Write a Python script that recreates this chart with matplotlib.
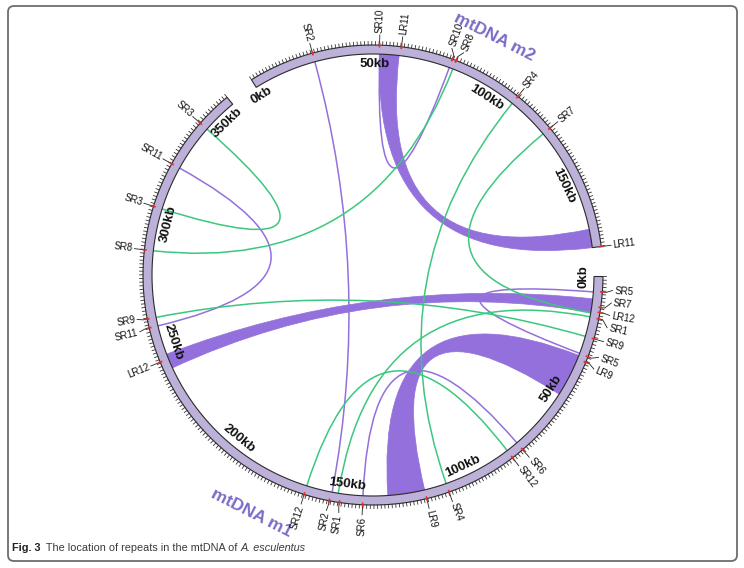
import numpy as np
import matplotlib
matplotlib.use('Agg')
import matplotlib.pyplot as plt
from matplotlib.path import Path
from matplotlib.patches import PathPatch, FancyBboxPatch

plt.rcParams['font.family'] = ['Liberation Sans', 'DejaVu Sans']

# ------------------------------------------------------------------
# data: two mitochondrial chromosomes (kb) and repeat positions
# ------------------------------------------------------------------
chrom_names = ['mtDNA m2', 'mtDNA m1']
chrom_sizes = [178, 357]

# repeat labels on the outside of each chromosome (name, kb)
m2_label_names = ['SR2', 'SR10', 'LR11', 'SR10', 'SR8', 'SR4', 'SR7', 'LR11']
m2_label_kb = [25.8, 52.0, 60.5, 80.8, 82.3, 110.0, 127.5, 178.0]
m1_label_names = ['SR5', 'SR7', 'LR12', 'SR1', 'SR9', 'SR5', 'LR9', 'SR6', 'SR12',
                  'SR4', 'LR9', 'SR6', 'SR1', 'SR2', 'SR12', 'LR12', 'SR11', 'SR9',
                  'SR8', 'SR3', 'SR11', 'SR3']
m1_label_kb = [6.0, 12.0, 14.0, 16.5, 24.4, 31.7, 34.0, 76.0, 81.0,
               109.0, 118.0, 143.0, 152.0, 156.0, 166.0, 244.0, 257.9, 261.4,
               288.3, 305.5, 323.4, 342.6]

# short repeats: single point links
link_names = ['SR2', 'SR5', 'SR6', 'SR10', 'SR11',
              'SR1', 'SR3', 'SR4', 'SR7', 'SR8', 'SR9', 'SR12']
link_kind = ['P', 'P', 'P', 'P', 'P', 'F', 'F', 'F', 'F', 'F', 'F', 'F']
link_chr_a = ['m2', 'm1', 'm1', 'm2', 'm1', 'm1', 'm1', 'm2', 'm2', 'm2', 'm1', 'm1']
link_kb_a = [25.8, 6.2, 76.0, 52.2, 257.9, 16.3, 305.5, 110.0, 127.5, 82.3, 24.4, 81.0]
link_chr_b = ['m1', 'm1', 'm1', 'm2', 'm1', 'm1', 'm1', 'm1', 'm1', 'm1', 'm1', 'm1']
link_kb_b = [155.5, 31.6, 143.0, 80.8, 323.4, 153.0, 342.6, 109.0, 14.7, 288.3, 261.4, 166.0]

# long repeats: ribbons
ribbon_names = ['LR9', 'LR11', 'LR12']
ribbon_chr_a = ['m1', 'm2', 'm1']
ribbon_a = [(118.0, 133.0), (52.0, 60.0), (240.0, 246.0)]
ribbon_chr_b = ['m1', 'm2', 'm1']
ribbon_b = [(32.5, 50.0), (170.5, 178.0), (9.0, 14.5)]

# ------------------------------------------------------------------
# layout
# ------------------------------------------------------------------
W, H = 744, 568
CX, CY = 373.0, 275.0
R_OUT, R_IN = 230.0, 221.0
START_DEG = -31.9
GAP_DEG = 7.5
KIND_COLOR = {'P': '#9370db', 'F': '#3cc77f'}
RIBBON_COLOR = '#9370db'
BAND_COLOR = '#bdb0d9'
NAME_COLOR = '#7b6bc6'

deg_per_kb = (360.0 - 2 * GAP_DEG) / sum(chrom_sizes)
chrom_start = {'m2': START_DEG,
               'm1': START_DEG + chrom_sizes[0] * deg_per_kb + GAP_DEG}
chrom_len = {'m2': chrom_sizes[0], 'm1': chrom_sizes[1]}


def ang(chrom, kb):
    return chrom_start[chrom] + kb * deg_per_kb


def pos(theta, r):
    t = np.radians(theta)
    return CX + r * np.sin(t), CY - r * np.cos(t)


def tangent_rot(theta):
    th = (theta + 180) % 360 - 180
    if -90 <= th <= 90:
        return -th
    return 180 - th


fig = plt.figure(figsize=(W / 100, H / 100), dpi=100)
ax = fig.add_axes([0, 0, 1, 1])
ax.set_xlim(0, W)
ax.set_ylim(H, 0)
ax.axis('off')

# frame round the figure
frame = FancyBboxPatch((8, 6), 729, 555, boxstyle='round,pad=0,rounding_size=6',
                       fc='none', ec='#6d6d6d', lw=1.3, zorder=1)
ax.add_patch(frame)

# ------------------------------------------------------------------
# links (drawn first, under the band)
# ------------------------------------------------------------------
for i in range(len(link_names)):
    ta = ang(link_chr_a[i], link_kb_a[i])
    tb = ang(link_chr_b[i], link_kb_b[i])
    verts = [pos(ta, R_IN), (CX, CY), pos(tb, R_IN)]
    p = Path(verts, [Path.MOVETO, Path.CURVE3, Path.CURVE3])
    ax.add_patch(PathPatch(p, fc='none', ec=KIND_COLOR[link_kind[i]], lw=1.1, zorder=3))


def arc_pts(t0, t1, r, n=30):
    return [pos(t, r) for t in np.linspace(t0, t1, n)]


for i in range(len(ribbon_names)):
    a0, a1 = [ang(ribbon_chr_a[i], k) for k in ribbon_a[i]]
    b0, b1 = [ang(ribbon_chr_b[i], k) for k in ribbon_b[i]]
    verts, codes = [], []
    pa = arc_pts(a0, a1, R_IN)
    verts += pa
    codes += [Path.MOVETO] + [Path.LINETO] * (len(pa) - 1)
    verts += [(CX, CY), pos(b0, R_IN)]
    codes += [Path.CURVE3, Path.CURVE3]
    pb = arc_pts(b0, b1, R_IN)[1:]
    verts += pb
    codes += [Path.LINETO] * len(pb)
    verts += [(CX, CY), pos(a0, R_IN), pos(a0, R_IN)]
    codes += [Path.CURVE3, Path.CURVE3, Path.CLOSEPOLY]
    ax.add_patch(PathPatch(Path(verts, codes), fc=RIBBON_COLOR, ec=RIBBON_COLOR,
                           lw=0.5, zorder=2))

# ------------------------------------------------------------------
# chromosome bands, ticks, kb labels
# ------------------------------------------------------------------
for name, chrom in zip(chrom_names, ['m2', 'm1']):
    t0 = ang(chrom, 0)
    t1 = ang(chrom, chrom_len[chrom])
    outer = arc_pts(t0, t1, R_OUT, 200)
    inner = arc_pts(t1, t0, R_IN, 200)
    poly = np.array(outer + inner)
    ax.fill(poly[:, 0], poly[:, 1], fc=BAND_COLOR, ec='#2b2b2b', lw=0.8, zorder=4)

    for kb in np.arange(0, chrom_len[chrom] + 0.01, 1.4):
        th = ang(chrom, kb)
        x0, y0 = pos(th, R_OUT)
        x1, y1 = pos(th, R_OUT + 3.5)
        ax.plot([x0, x1], [y0, y1], color='#333333', lw=0.6, zorder=4)

    for kb in range(0, chrom_len[chrom] + 1, 50):
        th = ang(chrom, kb)
        x, y = pos(th, 211)
        ax.text(x, y, f'{kb}kb', rotation=tangent_rot(th), ha='center', va='center',
                rotation_mode='anchor', fontsize=9.5, fontweight='bold', color='#111111',
                zorder=6)

    mid = ang(chrom, chrom_len[chrom] / 2) + 1.5
    x, y = pos(mid, 267)
    ax.text(x, y, name, rotation=tangent_rot(mid), ha='center', va='center',
            rotation_mode='anchor', fontsize=12.5, fontweight='bold', color=NAME_COLOR,
            zorder=6)


# ------------------------------------------------------------------
# repeat labels with leader lines
# ------------------------------------------------------------------
def spread(angles, min_sep=3.0):
    disp = list(angles)
    for _ in range(200):
        moved = False
        for j in range(1, len(disp)):
            d = disp[j] - disp[j - 1]
            if d < min_sep:
                shift = (min_sep - d) / 2
                disp[j - 1] -= shift
                disp[j] += shift
                moved = True
        if not moved:
            break
    return disp


for chrom, names, kbs in [('m2', m2_label_names, m2_label_kb),
                          ('m1', m1_label_names, m1_label_kb)]:
    order = np.argsort(kbs)
    true_ang = [ang(chrom, kbs[j]) for j in order]
    disp_ang = spread(true_ang)
    for k, j in enumerate(order):
        th, td = true_ang[k], disp_ang[k]
        p0 = pos(th, R_OUT - 1)
        p1 = pos(th, R_OUT + 4)
        p2 = pos(td, R_OUT + 10)
        ax.plot([p0[0], p1[0], p2[0]], [p0[1], p1[1], p2[1]], color='#222222',
                lw=0.6, zorder=5)
        r0, r1 = pos(th, R_OUT - 1.5), pos(th, R_OUT + 1.5)
        ax.plot([r0[0], r1[0]], [r0[1], r1[1]], color='#e0302a', lw=1.2, zorder=5)
        tn = td % 360
        x, y = pos(td, R_OUT + 12)
        if tn < 180:
            ax.text(x, y, names[j], rotation=90 - tn, ha='left', va='center',
                    rotation_mode='anchor', fontsize=7, color='#111111', zorder=6)
        else:
            ax.text(x, y, names[j], rotation=270 - tn, ha='right', va='center',
                    rotation_mode='anchor', fontsize=7, color='#111111', zorder=6)

# ------------------------------------------------------------------
# caption
# ------------------------------------------------------------------
renderer = fig.canvas.get_renderer()
x_px = 12.0
pieces = [('Fig. 3', 'bold', 'normal', '#222222'),
          ('  The location of repeats in the mtDNA of ', 'normal', 'normal', '#3a3a3a'),
          ('A. esculentus', 'normal', 'italic', '#3a3a3a')]
for txt, weight, style, col in pieces:
    t = ax.text(x_px, 548, txt, fontsize=7.8, fontweight=weight, fontstyle=style,
                color=col, ha='left', va='center')
    bb = t.get_window_extent(renderer=renderer)
    x_px += bb.width

fig.savefig('out.png', dpi=100)
